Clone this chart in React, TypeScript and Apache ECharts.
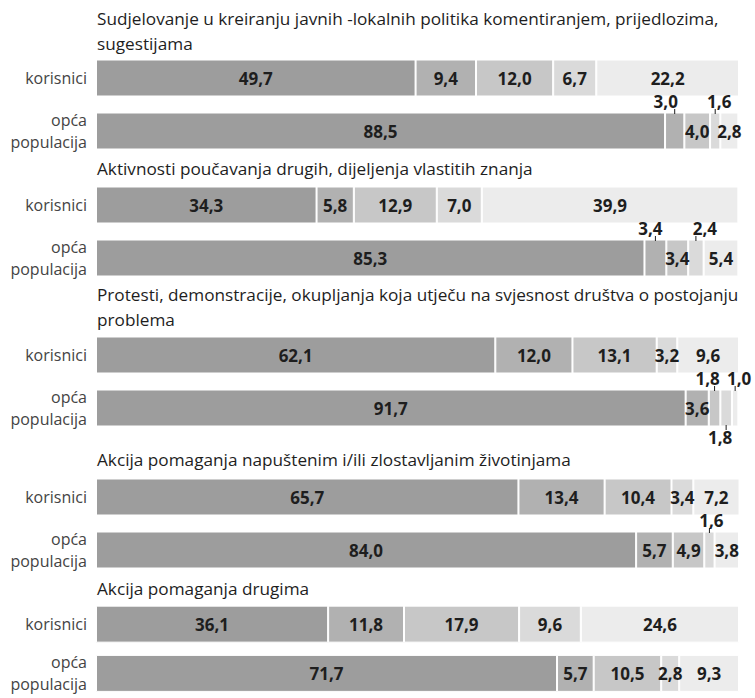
import React, { useEffect, useRef } from "react";
import * as echarts from "echarts";

const groupTitles = [
  "Sudjelovanje u kreiranju javnih -lokalnih politika komentiranjem, prijedlozima,\nsugestijama",
  "Aktivnosti poučavanja drugih, dijeljenja vlastitih znanja",
  "Protesti, demonstracije, okupljanja koja utječu na svjesnost društva o postojanju\nproblema",
  "Akcija pomaganja napuštenim i/ili zlostavljanim životinjama",
  "Akcija pomaganja drugima",
];

const rowLabels = ["korisnici", "opća\npopulacija"];

const korisnici = [
  [49.7, 9.4, 12.0, 6.7, 22.2],
  [34.3, 5.8, 12.9, 7.0, 39.9],
  [62.1, 12.0, 13.1, 3.2, 9.6],
  [65.7, 13.4, 10.4, 3.4, 7.2],
  [36.1, 11.8, 17.9, 9.6, 24.6],
];

const opcaPopulacija = [
  [88.5, 3.0, 4.0, 1.6, 2.8],
  [85.3, 3.4, 3.4, 2.4, 5.4],
  [91.7, 3.6, 1.8, 1.8, 1.0],
  [84.0, 5.7, 4.9, 1.6, 3.8],
  [71.7, 5.7, 10.5, 2.8, 9.3],
];

// layout: labels drawn outside the bar (group, row, segment, side, horizontal shift)
const outsideLabels = [
  { g: 0, row: 1, seg: 1, side: "top", dx: -9 },
  { g: 0, row: 1, seg: 3, side: "top", dx: 4 },
  { g: 1, row: 1, seg: 1, side: "top", dx: -5 },
  { g: 1, row: 1, seg: 3, side: "top", dx: 9 },
  { g: 2, row: 1, seg: 2, side: "top", dx: -7 },
  { g: 2, row: 1, seg: 3, side: "bottom", dx: -6 },
  { g: 2, row: 1, seg: 4, side: "top", dx: 4 },
  { g: 3, row: 1, seg: 3, side: "top", dx: 2 },
];

const segColors = ["#9d9d9d", "#b1b1b1", "#c7c7c7", "#dadada", "#ececec"];
const groupCenters = [78, 205, 355, 497, 626];
const titleTops = [6, 156, 282, 447, 576];
const FONT = '"Open Sans", "Noto Sans", sans-serif';
const TEXT = "#1e1e1e";
const BAR_H = 36;

const fmt = (v: number) => v.toFixed(1).replace(".", ",");

export default function App() {
  const ref = useRef<HTMLDivElement>(null);
  useEffect(() => {
    document.body.style.margin = "0";
    if (!ref.current) return;
    const chart = echarts.init(ref.current, null, { renderer: "svg" });

    const grids: any[] = [];
    const xAxes: any[] = [];
    const yAxes: any[] = [];
    const series: any[] = [];
    const graphics: any[] = [];

    groupTitles.forEach((t, g) => {
      grids.push({ left: 96, right: 16, top: groupCenters[g] - 26.5, height: 106 });
      xAxes.push({ gridIndex: g, type: "value", min: 0, max: 100, show: false });
      yAxes.push({
        gridIndex: g,
        type: "category",
        inverse: true,
        data: rowLabels,
        axisLine: { show: false },
        axisTick: { show: false },
        splitLine: { show: false },
        axisLabel: {
          margin: 9,
          color: "#444444",
          fontSize: 16,
          fontFamily: FONT,
          lineHeight: 22,
          align: "right",
        },
      });
      graphics.push({
        type: "text",
        left: 97,
        top: titleTops[g],
        style: {
          text: t,
          fill: TEXT,
          fontSize: 17.2,
          fontFamily: FONT,
          lineHeight: 25,
        },
      });
      const rows = [korisnici[g], opcaPopulacija[g]];
      for (let s = 0; s < 5; s++) {
        const data = rows.map((r, ri) => {
          const hidden = outsideLabels.some((o) => o.g === g && o.row === ri && o.seg === s);
          return hidden ? { value: r[s], label: { show: false } } : { value: r[s] };
        });
        series.push({
          type: "bar",
          xAxisIndex: g,
          yAxisIndex: g,
          stack: "g" + g,
          barWidth: BAR_H + 1,
          data,
          itemStyle: { color: segColors[s], borderColor: "#ffffff", borderWidth: 1 },
          label: {
            show: true,
            position: "inside",
            color: TEXT,
            fontWeight: "bold",
            fontSize: 17,
            fontFamily: FONT,
            formatter: (p: any) => fmt(p.value),
          },
        });
      }
      const items = outsideLabels.filter((o) => o.g === g);
      if (items.length) {
        const cdata = items.map((o) => {
          const r = rows[o.row];
          let start = 0;
          for (let k = 0; k < o.seg; k++) start += r[k];
          return [start + r[o.seg] / 2, o.row, o.side === "top" ? 1 : -1, o.dx];
        });
        series.push({
          type: "custom",
          xAxisIndex: g,
          yAxisIndex: g,
          clip: false,
          z: 10,
          data: cdata,
          encode: { x: 0, y: 1 },
          renderItem: (params: any, api: any) => {
            const o = items[params.dataIndex];
            const value = rows[o.row][o.seg];
            const pt = api.coord([api.value(0), api.value(1)]);
            const half = BAR_H / 2;
            const up = api.value(2) > 0;
            const edge = up ? pt[1] - half : pt[1] + half;
            const dir = up ? -1 : 1;
            return {
              type: "group",
              children: [
                {
                  type: "line",
                  shape: { x1: pt[0], y1: edge - dir * 1, x2: pt[0], y2: edge + dir * 4 },
                  style: { stroke: TEXT, lineWidth: 1 },
                },
                {
                  type: "text",
                  x: pt[0] + api.value(3),
                  y: edge + dir * 3,
                  style: {
                    text: fmt(value),
                    fill: TEXT,
                    fontWeight: "bold",
                    fontSize: 17,
                    fontFamily: FONT,
                    align: "center",
                    verticalAlign: up ? "bottom" : "top",
                  },
                },
              ],
            };
          },
        });
      }
    });

    chart.setOption({
      animation: false,
      backgroundColor: "#ffffff",
      grid: grids,
      xAxis: xAxes,
      yAxis: yAxes,
      series,
      graphic: graphics,
    });
    return () => chart.dispose();
  }, []);
  return <div ref={ref} style={{ width: 755, height: 698 }} />;
}
